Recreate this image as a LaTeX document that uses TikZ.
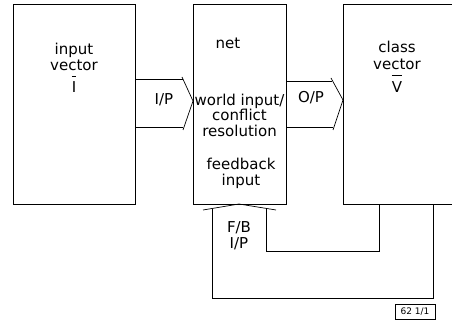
\documentclass[tikz,border=0pt]{standalone}
\usepackage{fontspec}
\setmainfont{DejaVu Sans}
\usetikzlibrary{calc}
\newcommand{\chevron}[3]{%
  \draw[conn] (#1) -- (#2) -- (#3);
}
\newcommand{\barred}[1]{$\overline{\hbox{\raisebox{0pt}[15.5pt]{#1}}}$}
\tikzset{
  box/.style={draw, line width=0.8pt, inner sep=0pt},
  conn/.style={line width=0.7pt},
  lbl/.style={font=\fontsize{15}{15.5}\selectfont, align=center, inner sep=0pt}
}

\begin{document}
\begin{tikzpicture}[x=1pt, y=1pt]
            \path[use as bounding box, clip] (0,0) rectangle (452,323);
            % the three blocks
            \node[box, minimum width=122pt, minimum height=200pt] (inbox) at (74,219) {};
            \node[box, minimum width=93pt, minimum height=200pt] (netbox) at (239.5,219) {};
            \node[box, minimum width=127pt, minimum height=200pt] (classbox) at (406.5,219) {};

            % I/P arrow
            \coordinate (IPa) at (182,246);
            \coordinate (IPb) at (193,222);
            \coordinate (IPc) at (183,193);
            \draw[conn] (inbox.east |- 0,244) -- (183,244);
            \draw[conn] (inbox.east |- 0,196) -- (183,196);
            \chevron{IPa}{IPb}{IPc}

            % O/P arrow
            \coordinate (OPa) at (331,245);
            \coordinate (OPb) at (343,223);
            \coordinate (OPc) at (333,193);
            \draw[conn] (netbox.east |- 0,242) -- (332,242);
            \draw[conn] (netbox.east |- 0,196) -- (333,196);
            \chevron{OPa}{OPb}{OPc}

            % F/B arrow
            \coordinate (FBa) at (203,113);
            \coordinate (FBb) at (239,119);
            \coordinate (FBc) at (276,113);
            \chevron{FBa}{FBb}{FBc}
            \coordinate (FBl) at (212,114);
            \coordinate (FBr) at (266,114);
            \draw[conn] (FBl) -- (212,25) -- (433,25) -- (433,0 |- classbox.south);
            \draw[conn] (FBr) -- (266,72) -- (379,72) -- (379,0 |- classbox.south);

            % texts
            \node[lbl, anchor=north] (intext) at (74,280) {input\\vector\\[4pt]\barred{I}};
            \node[lbl] (nettext) at (228,280) {net};
            \node[lbl] (worldtext) at (239.5,208) {world input/\\conflict\\resolution};
            \node[lbl] (fbtext) at (241,149.5) {feedback\\input};
            \node[lbl, anchor=north] (classtext) at (397,282) {class\\[1.5pt]vector\\[4pt]\barred{V}};
            \node[lbl] (iptext) at (164,223) {I/P};
            \node[lbl] (optext) at (311,225) {O/P};
            \node[lbl] (fbiptext) at (239,87.5) {F/B\\I/P};
            \node[draw, line width=0.6pt, minimum width=40pt, minimum height=15pt, inner sep=1pt,
                  font=\fontsize{9}{10}\selectfont] (tag) at (415,11.5) {62 1/1};
        \end{tikzpicture}
\end{document}
